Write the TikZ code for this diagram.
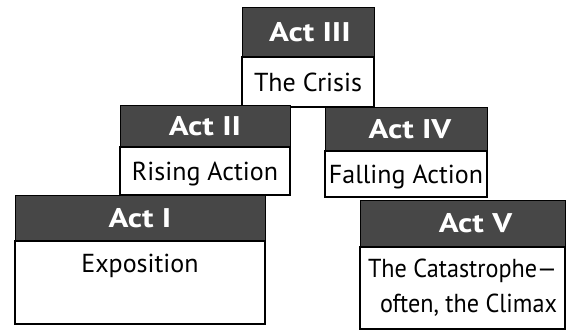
\documentclass[tikz,border=0pt]{standalone}
\usepackage{fontspec}
\setmainfont{PT Sans}
\newfontfamily\headfont{PT Sans}[FakeStretch=1.22]
\newfontfamily\narrowfont{PT Sans}[FakeStretch=0.93,Ligatures=TeX]
\definecolor{headgray}{HTML}{474747}
\begin{document}
\begin{tikzpicture}[x=1pt,y=-1pt,
  acthead/.style={draw=black, line width=0.8pt, fill=headgray,
    anchor=north west, inner sep=0pt, outer sep=0pt, text=white,
    font=\headfont\fontsize{27}{30}\selectfont\bfseries,
    text height=18.5pt, text depth=0pt},
  actbody/.style={draw=black, line width=1.2pt, fill=white,
    anchor=north west, inner sep=0pt, outer sep=0pt,
    font=\fontsize{26}{35}\selectfont, align=center,
    text height=18.5pt, text depth=0pt},
  twoline/.style={text height=, text depth=, align=right,
    font=\narrowfont\fontsize{26}{35}\selectfont}]
% page frame
\useasboundingbox[fill=white] (0,0) rectangle (570,330);

% Act III
\node[acthead, minimum width=132pt, minimum height=50pt] (h3) at (242,7) {\hspace{4pt}Act III};
\node[actbody, minimum width=132pt, minimum height=50pt] (b3) at (242,57) {The Crisis};

% Act II
\node[acthead, minimum width=170pt, minimum height=42pt] (h2) at (120,105) {Act II};
\node[actbody, minimum width=170pt, minimum height=48pt] (b2) at (120,147) {Rising Action};

% Act IV
\node[acthead, minimum width=162pt, minimum height=44pt] (h4) at (325,107) {\hspace{8pt}Act IV};
\node[actbody, minimum width=162pt, minimum height=46pt] (b4) at (325,151) {Falling Action};

% Act I
\node[acthead, minimum width=250pt, minimum height=46pt] (h1) at (15,195) {Act I};
\node[actbody, minimum width=250pt, minimum height=83pt, text depth=38pt] (b1) at (15,241) {Exposition};

% Act V
\node[acthead, minimum width=205pt, minimum height=47pt] (h5) at (360,200) {\hspace{26pt}Act V};
\node[actbody, twoline, minimum width=205pt, minimum height=82pt] (b5) at (360,247)
  {The Catastrophe—\\often, the Climax};
\end{tikzpicture}
\end{document}
